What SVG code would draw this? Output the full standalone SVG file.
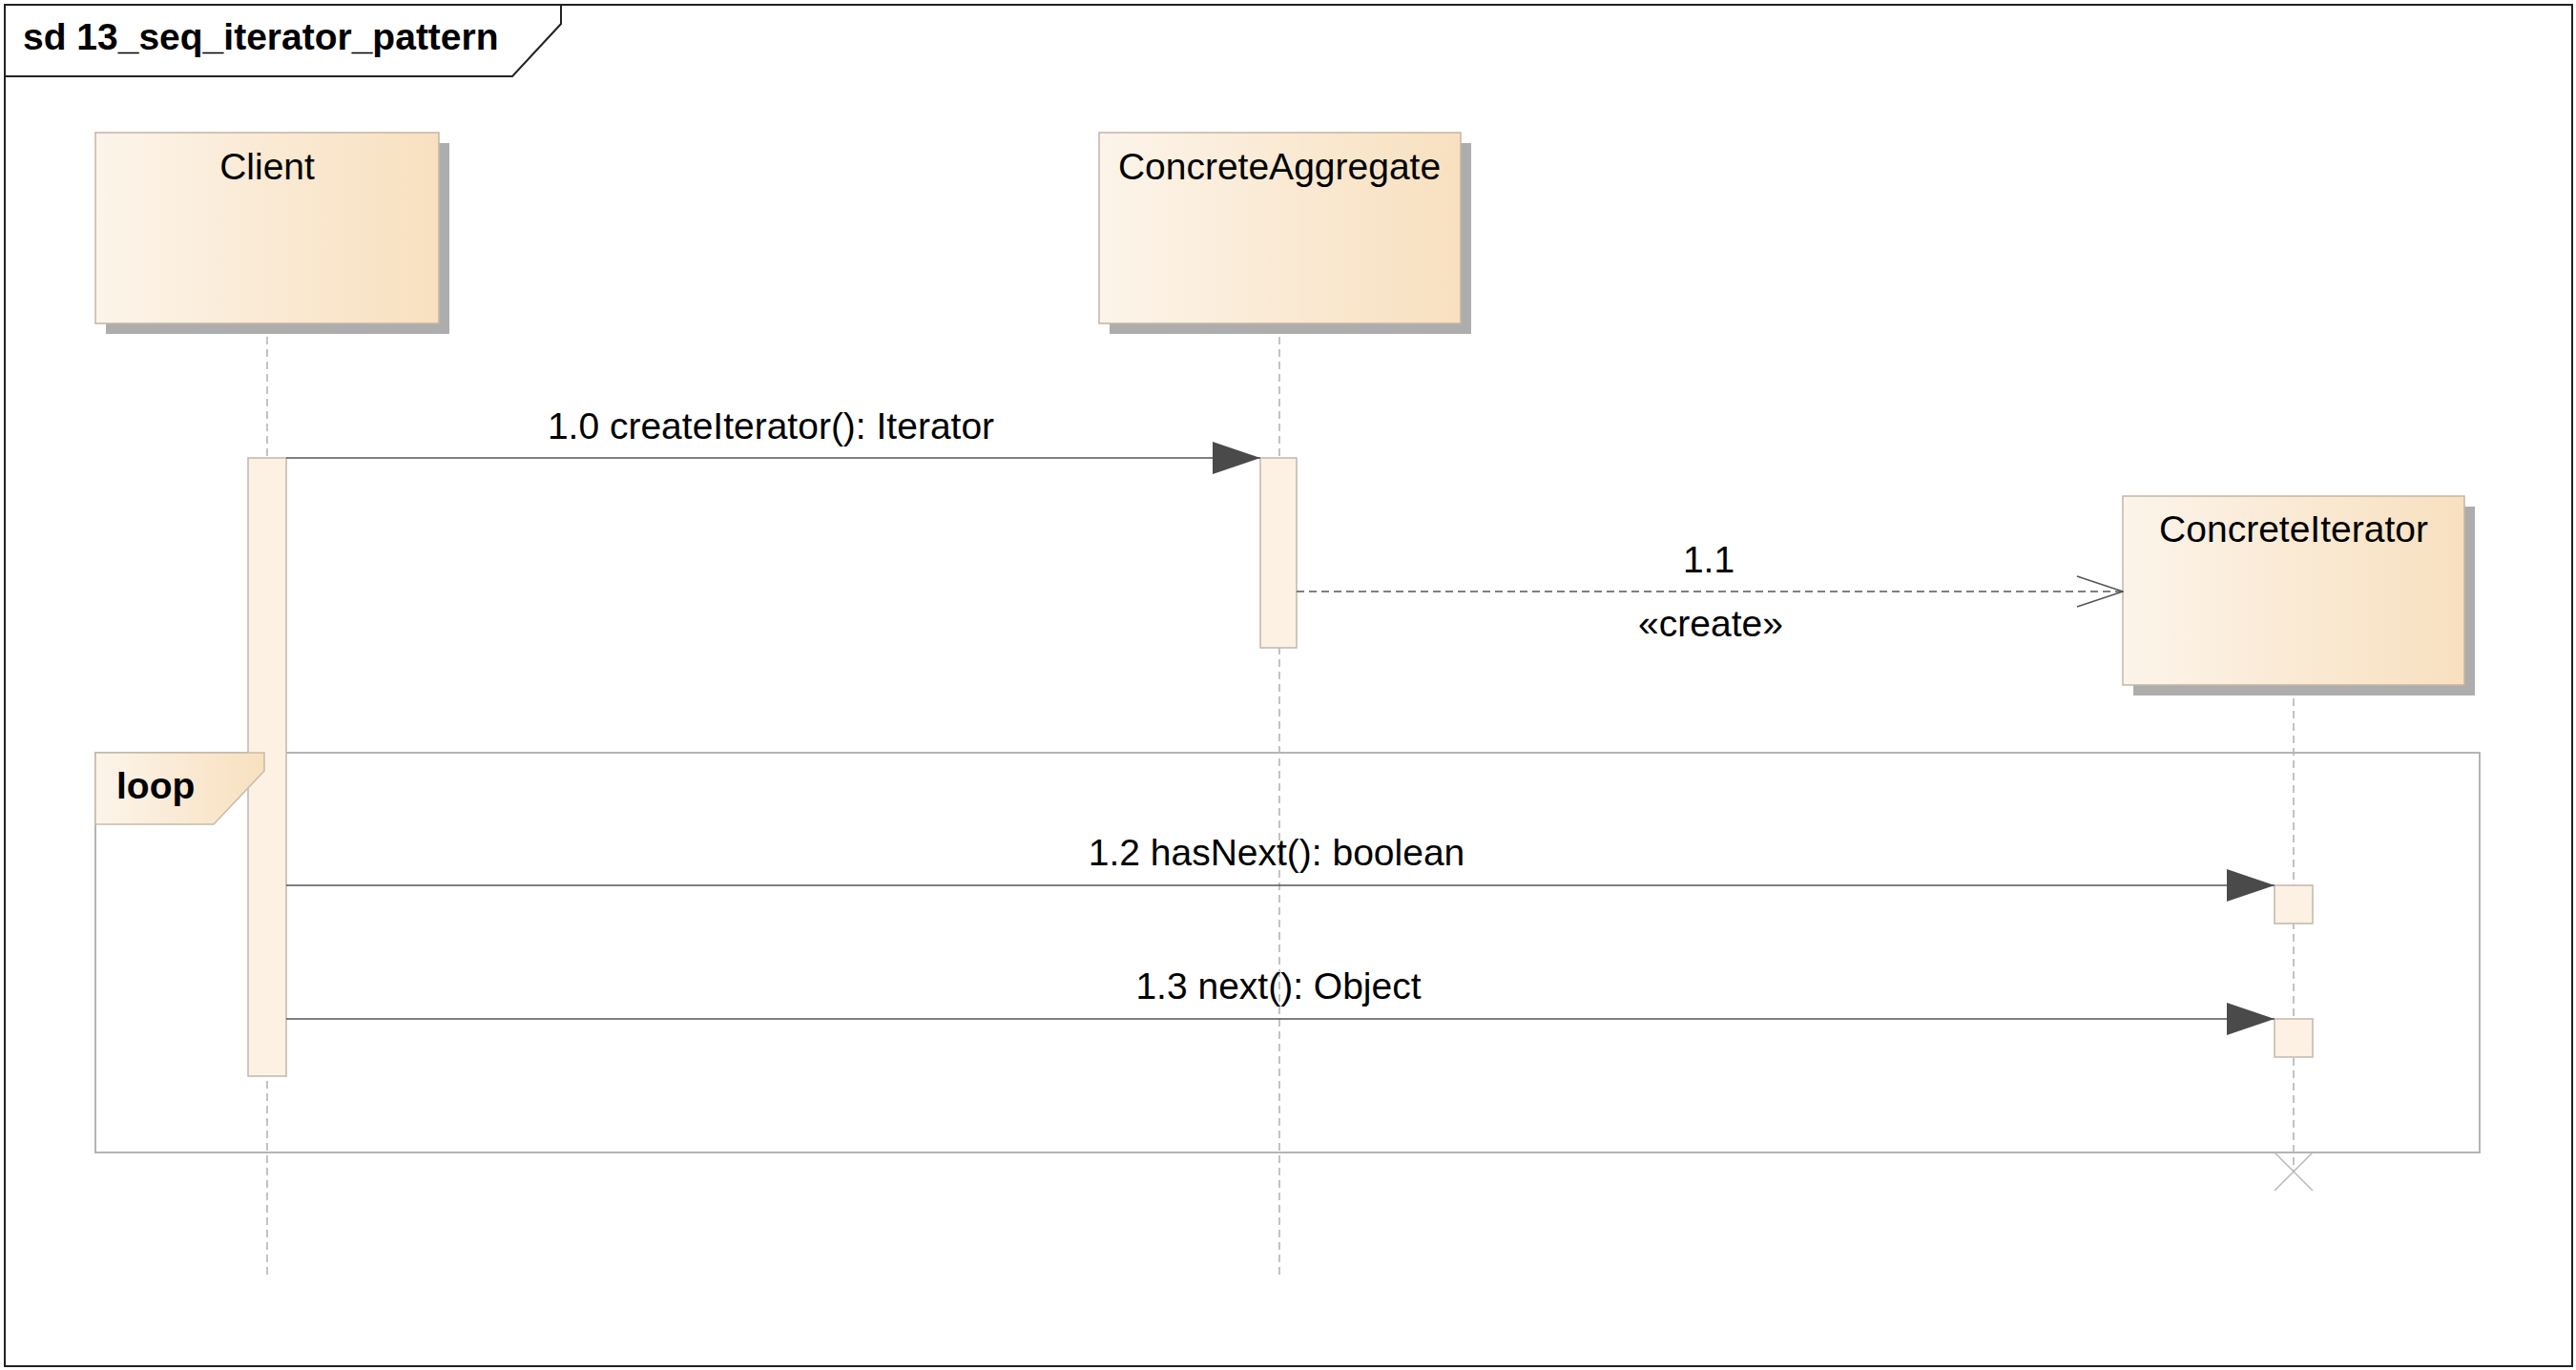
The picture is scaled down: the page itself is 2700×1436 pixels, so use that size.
<svg xmlns="http://www.w3.org/2000/svg" width="2700" height="1436" viewBox="0 0 2700 1436">
<defs>
<linearGradient id="g" x1="0" y1="0" x2="1" y2="0">
<stop offset="0" stop-color="#fcf4ea"/>
<stop offset="1" stop-color="#f8e0bf"/>
</linearGradient>
<marker id="filled" markerUnits="userSpaceOnUse" viewBox="0 0 50 34" markerWidth="50" markerHeight="34" refX="50" refY="17" orient="auto">
<path d="M0,0 L50,17 L0,34 Z" fill="#4a4a4a"/>
</marker>
<marker id="open" markerUnits="userSpaceOnUse" viewBox="0 0 50 36" markerWidth="50" markerHeight="36" refX="49" refY="18" orient="auto">
<path d="M1,2 L49,18 L1,34" fill="none" stroke="#555" stroke-width="1.5"/>
</marker>
</defs>
<style>
.t{font-family:"Liberation Sans",Arial,sans-serif;font-size:39px;fill:#000}
.b{font-weight:bold}
.box{fill:url(#g);stroke:#c4b5a5;stroke-width:1.5}
.sh{fill:#adadad}
.life{stroke:#b0b0b0;stroke-width:1.5;stroke-dasharray:8 5;fill:none}
.act{fill:#fcf1e3;stroke:#c2b6aa;stroke-width:1.5}
.msg{stroke:#555;stroke-width:1.5;fill:none}
.dash{stroke-dasharray:8 5}
</style>
<rect width="2700" height="1436" fill="#fff"/>
<g id="frame">
<rect x="5" y="5" width="2691" height="1427" fill="none" stroke="#222" stroke-width="2"/>
<path d="M5,80 H537 L588,25 V5" fill="none" stroke="#222" stroke-width="2"/>
<text class="t b" x="24" y="52">sd 13_seq_iterator_pattern</text>
</g>
<g id="loop-frame">
<rect x="100" y="789" width="2499" height="419" fill="none" stroke="#b4b4b4" stroke-width="2"/>
</g>
<g id="lifelines">
<line class="life" x1="280" y1="340" x2="280" y2="1336"/>
<line class="life" x1="1341" y1="340" x2="1341" y2="1336"/>
<line class="life" x1="2404" y1="719" x2="2404" y2="1228"/>
<path d="M2384,1208 L2424,1248 M2424,1208 L2384,1248" stroke="#b8b8b8" stroke-width="1.5" fill="none"/>
</g>
<g id="client">
<rect class="sh" x="111" y="150" width="360" height="200"/>
<rect class="box" x="100" y="139" width="360" height="200"/>
<text class="t" x="280" y="188" text-anchor="middle">Client</text>
</g>
<g id="concreteAggregate">
<rect class="sh" x="1163" y="150" width="379" height="200"/>
<rect class="box" x="1152" y="139" width="379" height="200"/>
<text class="t" x="1341" y="188" text-anchor="middle">ConcreteAggregate</text>
</g>
<g id="concreteIterator">
<rect class="sh" x="2236" y="531" width="358" height="198"/>
<rect class="box" x="2225" y="520" width="358" height="198"/>
<text class="t" x="2404" y="568" text-anchor="middle">ConcreteIterator</text>
</g>
<g id="activations">
<rect class="act" x="260" y="480" width="40" height="648"/>
<rect class="act" x="1321" y="480" width="38" height="199"/>
<rect class="act" x="2384" y="928" width="40" height="40"/>
<rect class="act" x="2384" y="1068" width="40" height="40"/>
</g>
<g id="loop-tab">
<path d="M100,789 H277 V808 L224,864 H100 Z" fill="url(#g)" stroke="#c8bba8" stroke-width="1.5"/>
<text class="t b" x="122" y="837">loop</text>
</g>
<g id="connectors">
<line class="msg" x1="300" y1="480" x2="1321" y2="480" marker-end="url(#filled)"/>
<line class="msg dash" x1="1359" y1="620" x2="2225" y2="620" marker-end="url(#open)"/>
<line class="msg" x1="300" y1="928" x2="2384" y2="928" marker-end="url(#filled)"/>
<line class="msg" x1="300" y1="1068" x2="2384" y2="1068" marker-end="url(#filled)"/>
<text class="t" x="808" y="460" text-anchor="middle">1.0 createIterator(): Iterator</text>
<text class="t" x="1791" y="600" text-anchor="middle">1.1</text>
<text class="t" x="1793" y="667" text-anchor="middle">«create»</text>
<text class="t" x="1338" y="907" text-anchor="middle">1.2 hasNext(): boolean</text>
<text class="t" x="1340" y="1047" text-anchor="middle">1.3 next(): Object</text>
</g>
</svg>
